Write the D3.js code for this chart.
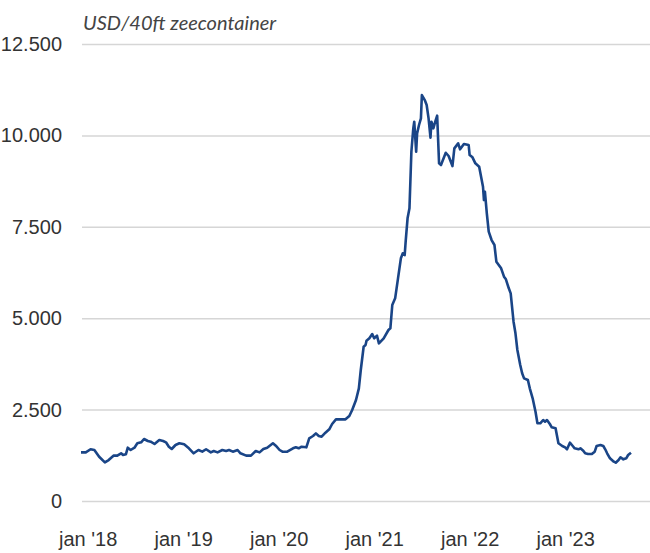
<!DOCTYPE html>
<html>
<head>
<meta charset="utf-8">
<script src="https://cdn.jsdelivr.net/npm/d3@7"></script>
<style>
  body { margin: 0; background: #fff; }
  svg { display: block; font-family: Lato, "Open Sans", sans-serif; }
</style>
</head>
<body>
<div id="chart"></div>
<script>
// decimal year of each reading
const years = [
  2017.93, 2017.98, 2018.03, 2018.07, 2018.12, 2018.18, 2018.22, 2018.27, 2018.31, 2018.35,
  2018.37, 2018.40, 2018.42, 2018.45, 2018.49, 2018.52, 2018.56, 2018.59, 2018.63, 2018.66,
  2018.70, 2018.75, 2018.79, 2018.82, 2018.85, 2018.88, 2018.92, 2018.96, 2019.01, 2019.06,
  2019.11, 2019.16, 2019.20, 2019.24, 2019.29, 2019.32, 2019.36, 2019.41, 2019.45, 2019.48,
  2019.52, 2019.57, 2019.60, 2019.66, 2019.71, 2019.76, 2019.80, 2019.84, 2019.88, 2019.94,
  2019.97, 2020.01, 2020.04, 2020.09, 2020.15, 2020.18, 2020.21, 2020.24, 2020.29, 2020.32,
  2020.36, 2020.39, 2020.42, 2020.45, 2020.49, 2020.53, 2020.56, 2020.60, 2020.65, 2020.70,
  2020.74, 2020.77, 2020.81, 2020.84, 2020.86, 2020.89, 2020.91, 2020.92, 2020.95, 2020.98,
  2021.00, 2021.03, 2021.05, 2021.10, 2021.15, 2021.17, 2021.19, 2021.22, 2021.25, 2021.28,
  2021.30, 2021.32, 2021.33, 2021.35, 2021.37, 2021.39, 2021.41, 2021.42, 2021.44, 2021.45,
  2021.47, 2021.49, 2021.50, 2021.53, 2021.55, 2021.57, 2021.59, 2021.60, 2021.62, 2021.64,
  2021.66, 2021.68, 2021.70, 2021.75, 2021.78, 2021.82, 2021.84, 2021.88, 2021.90, 2021.94,
  2021.99, 2022.00, 2022.03, 2022.06, 2022.10, 2022.12, 2022.14, 2022.15, 2022.16, 2022.18,
  2022.20, 2022.23, 2022.26, 2022.28, 2022.33, 2022.36, 2022.38, 2022.41, 2022.43, 2022.46,
  2022.48, 2022.50, 2022.53, 2022.55, 2022.57, 2022.61, 2022.63, 2022.66, 2022.69, 2022.71,
  2022.74, 2022.77, 2022.79, 2022.81, 2022.84, 2022.86, 2022.90, 2022.93, 2022.97, 2023.00,
  2023.02, 2023.05, 2023.08, 2023.10, 2023.14, 2023.16, 2023.19, 2023.21, 2023.24, 2023.28,
  2023.31, 2023.33, 2023.37, 2023.40, 2023.42, 2023.44, 2023.47, 2023.51, 2023.53, 2023.56,
  2023.58, 2023.61, 2023.64, 2023.66, 2023.69
];

// USD per 40ft container
const rates = [
  1330, 1330, 1415, 1395, 1210, 1058, 1121, 1240, 1240, 1305,
  1258, 1277, 1458, 1395, 1458, 1578, 1605, 1696, 1641, 1622,
  1559, 1668, 1641, 1605, 1485, 1422, 1532, 1578, 1550, 1441,
  1305, 1395, 1349, 1415, 1330, 1367, 1330, 1395, 1367, 1395,
  1349, 1395, 1305, 1240, 1240, 1367, 1330, 1422, 1458, 1578,
  1513, 1395, 1349, 1349, 1441, 1468, 1441, 1485, 1468, 1715,
  1778, 1851, 1778, 1759, 1868, 1961, 2106, 2234, 2234, 2234,
  2325, 2489, 2762, 3082, 3583, 4220, 4267, 4384, 4450, 4567,
  4450, 4521, 4313, 4450, 4677, 4723, 5361, 5543, 6091, 6638,
  6775, 6728, 7092, 7732, 8006, 9553, 10193, 10375, 9553, 10056,
  10284, 10467, 11104, 10967, 10831, 10467, 9936, 10375, 10193, 10375,
  10539, 9236, 9190, 9526, 9436, 9162, 9646, 9782, 9618, 9764,
  9736, 9463, 9400, 9236, 9143, 8870, 8596, 8232, 8459, 7868,
  7366, 7138, 7002, 6545, 6364, 6135, 6063, 5817, 5680, 4904,
  4587, 4130, 3720, 3492, 3355, 3309, 3082, 2809, 2442, 2125,
  2125, 2215, 2169, 2215, 2106, 2016, 1988, 1578, 1504, 1468,
  1414, 1595, 1504, 1441, 1414, 1441, 1376, 1305, 1285, 1285,
  1349, 1504, 1532, 1504, 1414, 1305, 1168, 1075, 1048, 1121,
  1195, 1140, 1168, 1258, 1321
];

const yTicks = [0, 2500, 5000, 7500, 10000, 12500];
const xTicks = [2018, 2019, 2020, 2021, 2022, 2023];
const xTickLabels = ["jan '18", "jan '19", "jan '20", "jan '21", "jan '22", "jan '23"];
const unitLabel = "USD/40ft zeecontainer";

const W = 650, H = 553;
const margin = { top: 44, right: 0, bottom: 52, left: 82 };

const data = years.map((y, i) => ({ t: y, v: rates[i] }));

const svg = d3.select("#chart").append("svg")
  .attr("width", W)
  .attr("height", H);

const x = d3.scaleLinear()
  .domain([years[0], years[years.length - 1]])
  .range([81, 631]);

const y = d3.scaleLinear()
  .domain([0, 12500])
  .range([H - margin.bottom, margin.top]);

const nl = d3.formatLocale({ decimal: ",", thousands: ".", grouping: [3], currency: ["€", ""] });
const fmt = nl.format(",");

// gridlines + y labels
const yAxis = d3.axisLeft(y)
  .tickValues(yTicks)
  .tickFormat(fmt)
  .tickSize(-(W - margin.left))
  .tickPadding(20);

svg.append("g")
  .attr("transform", `translate(${margin.left},0)`)
  .call(yAxis)
  .call(g => g.select(".domain").remove())
  .call(g => g.selectAll(".tick line").attr("stroke", "#d6d6d6").attr("stroke-width", 1.5))
  .call(g => g.selectAll(".tick text").attr("fill", "#333").attr("font-size", 20));

// x labels
const xAxis = d3.axisBottom(x)
  .tickValues(xTicks)
  .tickFormat((d, i) => xTickLabels[i])
  .tickSize(0)
  .tickPadding(31);

svg.append("g")
  .attr("transform", `translate(0,${H - margin.bottom})`)
  .call(xAxis)
  .call(g => g.select(".domain").remove())
  .call(g => g.selectAll(".tick text").attr("fill", "#333").attr("font-size", 20));

svg.append("text")
  .attr("x", 83)
  .attr("y", 30)
  .attr("fill", "#444")
  .attr("font-size", 20)
  .attr("font-style", "italic")
  .text(unitLabel);

const line = d3.line()
  .x(d => x(d.t))
  .y(d => y(d.v))
  .curve(d3.curveLinear);

svg.append("path")
  .datum(data)
  .attr("d", line)
  .attr("fill", "none")
  .attr("stroke", "#1a4587")
  .attr("stroke-width", 2.6)
  .attr("stroke-linejoin", "round");
</script>
</body>
</html>
